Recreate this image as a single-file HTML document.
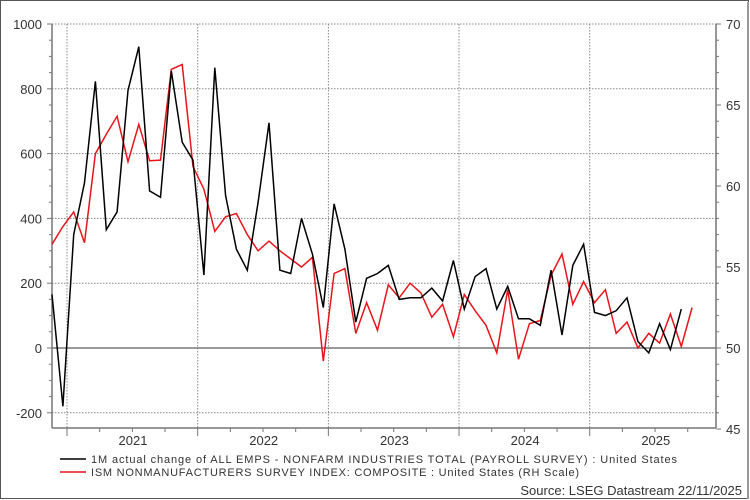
<!DOCTYPE html>
<html><head><meta charset="utf-8"><style>
html,body{margin:0;padding:0;background:#fff}
svg{display:block}
text{font-family:"Liberation Sans",Arial,sans-serif;fill:#333}
</style></head><body>
<svg id="s" width="750" height="500" viewBox="0 0 750 500" xmlns="http://www.w3.org/2000/svg">
<rect x="0.5" y="0.5" width="748" height="498" fill="#fff" stroke="#555" stroke-width="1"/>
<line x1="748" y1="2" x2="748" y2="499" stroke="#999" stroke-width="2"/>
<g id="grid"></g>
<g id="axes"></g>
<polyline id="red" fill="none" stroke="#e8141c" stroke-width="1.5"/>
<polyline id="blk" fill="none" stroke="#000" stroke-width="1.5"/>
<line x1="60" y1="459" x2="86" y2="459" stroke="#000" stroke-width="1.5"/>
<text x="91" y="463" font-size="11" textLength="586" lengthAdjust="spacing">1M actual change of ALL EMPS - NONFARM INDUSTRIES TOTAL (PAYROLL SURVEY) : United States</text>
<line x1="60" y1="472" x2="86" y2="472" stroke="#e8141c" stroke-width="1.5"/>
<text x="91" y="476" font-size="11" textLength="488" lengthAdjust="spacing">ISM NONMANUFACTURERS SURVEY INDEX: COMPOSITE : United States (RH Scale)</text>
<text x="742" y="495" font-size="13" text-anchor="end">Source: LSEG Datastream 22/11/2025</text>
</svg>
<script>
var L=52,R=716,T=24,B=428;
function yL(v){return 348-v*0.324;}
var g='',a='';
[1000,800,600,400,200,-200].forEach(function(v){var y=yL(v);g+='<line x1="'+L+'" y1="'+y+'" x2="'+R+'" y2="'+y+'" stroke="#888" stroke-dasharray="1.5,1.5" stroke-width="1"/>';});
g+='<line x1="'+L+'" y1="348" x2="'+R+'" y2="348" stroke="#333" stroke-width="1"/>';
[67,197.7,328.4,459,589.7].forEach(function(x){g+='<line x1="'+x+'" y1="'+T+'" x2="'+x+'" y2="'+B+'" stroke="#888" stroke-dasharray="1.5,1.5" stroke-width="1"/>';});
document.getElementById('grid').innerHTML=g;
a+='<line x1="'+L+'" y1="'+T+'" x2="'+L+'" y2="'+B+'" stroke="#777" stroke-width="1.5"/>';
a+='<line x1="'+R+'" y1="'+T+'" x2="'+R+'" y2="'+B+'" stroke="#777" stroke-width="1.5"/>';
a+='<line x1="'+L+'" y1="'+B+'" x2="'+R+'" y2="'+B+'" stroke="#777" stroke-width="1.5"/>';
for(var v=-200;v<=1000;v+=50){var y=yL(v);a+='<line x1="'+(L-(v%200==0?5:3))+'" y1="'+y+'" x2="'+L+'" y2="'+y+'" stroke="#777"/>';}
[1000,800,600,400,200,0,-200].forEach(function(v){a+='<text x="42" y="'+(yL(v)+5)+'" font-size="13" text-anchor="end">'+v+'</text>';});
for(var r=45;r<=70;r++){var y=348-(r-50)*16.2;if(y<T-1||y>B+2)continue;a+='<line x1="'+R+'" y1="'+y+'" x2="'+(R+(r%5==0?5:3))+'" y2="'+y+'" stroke="#777"/>';if(r%5==0)a+='<text x="726" y="'+(y+5)+'" font-size="13">'+r+'</text>';}
for(var i=0;i<20;i++){var x=67+i*32.67;if(x>R)break;a+='<line x1="'+x+'" y1="'+B+'" x2="'+x+'" y2="'+(B+(i%4==0?8:4))+'" stroke="#777"/>';}
['2021','2022','2023','2024','2025'].forEach(function(t,i){a+='<text x="'+(133+i*130.7)+'" y="445" font-size="13" text-anchor="middle">'+t+'</text>';});
document.getElementById('axes').innerHTML=a;
var blk=[165,-180,350,510,823,365,420,795,930,485,465,855,635,580,225,865,470,305,240,450,695,240,230,400,290,125,445,305,80,215,230,255,150,155,155,185,145,270,120,220,245,120,190,90,90,70,240,40,255,320,110,100,115,155,20,-15,75,-5,120];
var red=[320,375,420,325,600,660,715,575,690,578,580,860,875,560,490,360,405,415,350,300,330,300,275,250,280,-40,230,245,45,140,55,195,155,200,170,95,135,35,165,115,70,-15,180,-35,75,85,225,290,135,205,140,180,45,80,0,45,15,105,5,125];
function pts(d){return d.map(function(v,i){return (52+i*10.85).toFixed(1)+','+yL(v).toFixed(1);}).join(' ');}
document.getElementById('blk').setAttribute('points',pts(blk));
document.getElementById('red').setAttribute('points',pts(red));
</script>
</body></html>
